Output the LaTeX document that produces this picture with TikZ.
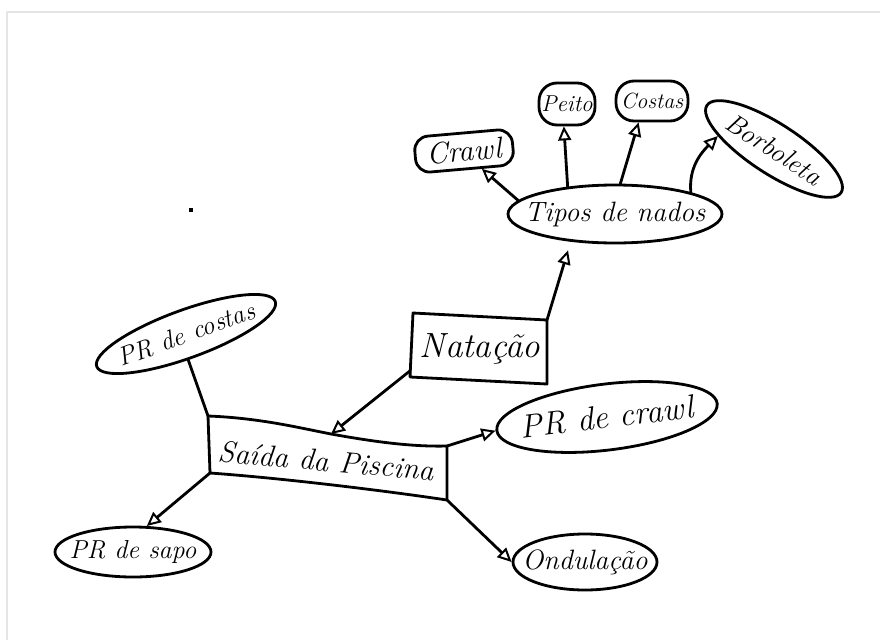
\documentclass[tikz,border=0pt]{standalone}
\usetikzlibrary{arrows.meta,shapes.geometric,calc}
\begin{document}
\begin{tikzpicture}[x=1pt,y=-1pt,
  line width=2.8pt, line join=round, line cap=round,
  every node/.style={inner sep=0pt, text=black},
  blob/.style={draw, ellipse},
  rbox/.style={draw, rectangle},
  arr/.style={-{Triangle[open,length=14pt,width=13pt,line width=2pt]}},
  hw/.style={font=\fontsize{#1}{#1}\selectfont\itshape}]
\useasboundingbox (0,0) rectangle (880,640);
\fill[white] (0,0) rectangle (880,640);
\draw[line width=2pt, black!10, line cap=butt] (7,640) -- (7,12) -- (880,12);
\fill (189,208) rectangle (193,212);

% Natacao box
\coordinate (natA) at (413,313);
\coordinate (natB) at (547,320);
\coordinate (natC) at (547,384);
\coordinate (natD) at (410,377);
\draw (natA) -- (natB) -- (natC) -- (natD) -- cycle;
\node[hw=35] (nat) at (480,349) {Natação};

% Saida box
\coordinate (sA) at (208,416);
\coordinate (sM) at (331,434);
\coordinate (sB) at (447,446);
\coordinate (sC) at (447,500);
\coordinate (sD) at (210,473);
\draw (sA) .. controls (260,418) and (300,428) .. (sM)
      .. controls (370,441) and (410,447) .. (sB) -- (sC)
      .. controls (380,490) and (280,478) .. (sD) -- cycle;
\node[hw=30, rotate=-5] (sai) at (326,461) {Saída da Piscina};

% Tipos de nados and its children
\node[blob, minimum width=214pt, minimum height=58pt] (tipos) at (615,214) {};
\node[hw=28] (tiposT) at (tipos.center) {Tipos de nados};
\node[rbox, rounded corners=14pt, minimum width=98pt, minimum height=36pt, rotate=5, hw=30] (crawl) at (464,151) {Crawl};
\node[rbox, rounded corners=18pt, minimum width=56pt, minimum height=42pt, hw=23] (peito) at (567,104) {Peito};
\node[rbox, rounded corners=18pt, minimum width=72pt, minimum height=40pt, hw=22] (costas) at (652,101) {Costas};
\node[blob, minimum width=160pt, minimum height=50pt, rotate=-33] (borb) at (774,149) {};
\node[hw=27, rotate=-33] (borbT) at (borb.center) {Borboleta};

% children of Saida
\node[blob, minimum width=190pt, minimum height=48pt, rotate=20] (prc) at (186,334) {};
\node[hw=26, rotate=20] (prcT) at (prc.center) {PR de costas};
\node[blob, minimum width=222pt, minimum height=66pt, rotate=7] (prw) at (607,417) {};
\node[hw=33, rotate=7] (prwT) at (prw.center) {PR de crawl};
\node[blob, minimum width=156pt, minimum height=50pt] (sapo) at (133,552) {};
\node[hw=26] (sapoT) at (sapo.center) {PR de sapo};
\node[blob, minimum width=144pt, minimum height=56pt] (ond) at (585,562) {};
\node[hw=28] (ondT) at (ond.center) {Ondulação};

% connectors
\draw[arr, shorten >=9pt] (natB) -- (tipos.212);
\draw[arr] ($(natA)!0.9!(natD)$) -- (sM);
\draw[arr] (tipos.172) -- (crawl.-50);
\draw[arr] (tipos.150) -- (peito.262);
\draw[arr] (tipos.80) -- (costas.238);
\draw[arr] (tipos.16) to[out=95, in=225] (borb.200);
\draw (sA) -- (prc.-105);
\draw[arr] (sB) -- (prw.west);
\draw[arr] (sD) -- (sapo.62);
\draw[arr] (sC) -- (ond.west);
\end{tikzpicture}
\end{document}
